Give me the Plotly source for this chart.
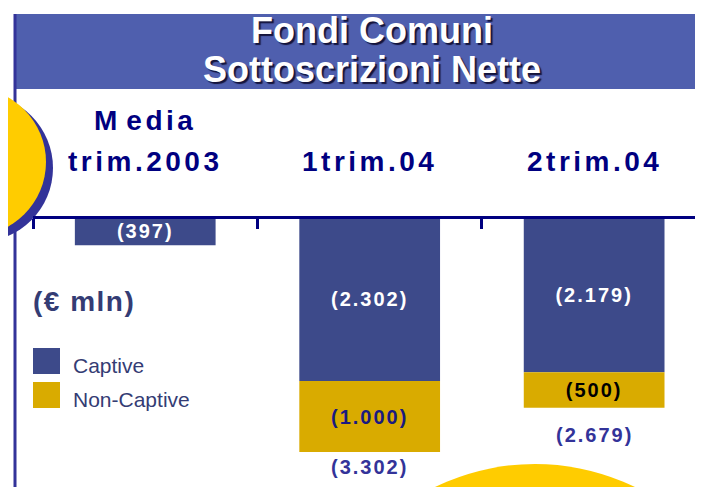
import plotly.graph_objects as go

# ---------------- data ----------------
categories = ["Media<br>trim.2003", "1trim.04", "2trim.04"]
captive = [-397, -2302, -2179]
non_captive = [None, -1000, -500]
totals = [None, -3302, -2679]
title_lines = ["Fondi Comuni", "Sottoscrizioni Nette"]
unit_label = "(€ mln)"
series_names = ["Captive", "Non-Captive"]

# ---------------- style ----------------
# the page body has an 8px default margin: lay the figure out in page pixels
OX, OY = 8, 8
W, H = 703 - OX, 487 - OY
FONT = "Liberation Sans"
NAVY = "#000080"
BAND = "#4F5FAE"
EDGE = "#333399"
YELLOW = "#FFCC00"
CAPTIVE_C = "#3D4A8A"
NONCAP_C = "#D9AB00"
LABEL_C = "#333399"
TEXT_C = "#343C74"
SCALE = 0.0712  # px per unit


def px(x):
    return (x - OX) / W


def py(y):
    return 1 - (y - OY) / H


def fmt(v):
    return "(" + f"{abs(v):,}".replace(",", ".") + ")"


def spaced(s, sp):
    return f'<span style="letter-spacing:{sp}px">{s}</span>'


def cat_line(s):
    # the first capital of "Media" is set apart in the original
    if s == "Media":
        return spaced("M", 9) + spaced("edia", 3.5)
    return spaced(s, 3.5)


fig = go.Figure()

fig.add_bar(
    x=categories, y=captive, name=series_names[0], width=0.627,
    marker=dict(color=CAPTIVE_C, line=dict(width=0)),
    text=[spaced(fmt(v), 2) for v in captive],
    textposition="inside", insidetextanchor="middle", constraintext="none",
    textfont=dict(family=FONT, size=20, color="white", weight="bold"),
    showlegend=False, hoverinfo="skip",
)
fig.add_bar(
    x=categories, y=non_captive, name=series_names[1], width=0.627,
    marker=dict(color=NONCAP_C, line=dict(width=0)),
    text=[spaced(fmt(v), 2) if v else "" for v in non_captive],
    textposition="inside", insidetextanchor="middle", constraintext="none",
    textfont=dict(family=FONT, size=20, color=["#1A1A80", "#1A1A80", "#000000"], weight="bold"),
    showlegend=False, hoverinfo="skip",
)

annotations = []
# totals under the stacks
total_shift = [0, -15, -27]
for i, t in enumerate(totals):
    if t is None:
        continue
    annotations.append(dict(
        x=categories[i], y=t, xref="x", yref="y", yanchor="middle", yshift=total_shift[i],
        text=spaced(fmt(t), 2), showarrow=False,
        font=dict(family=FONT, size=20, color=LABEL_C, weight="bold"),
    ))

# category labels above the axis
for c in categories:
    lines = c.split("<br>")[::-1]
    for k, ln in enumerate(lines):
        annotations.append(dict(
            x=c, xref="x", y=py(161 - 41 * k), yref="paper", yanchor="middle",
            text=cat_line(ln), showarrow=False,
            font=dict(family=FONT, size=28, color=NAVY, weight="bold"),
        ))

# title
for k, ln in enumerate(title_lines):
    annotations.append(dict(
        x=px(372), xref="paper", y=py(31 + 39 * k), yref="paper", yanchor="middle",
        text=ln, showarrow=False,
        font=dict(family=FONT, size=36, color="white", weight="bold",
                  shadow="2px 2px 1px #14143c"),
    ))

# unit + legend
annotations.append(dict(
    x=px(31), xref="paper", xanchor="left", y=py(301), yref="paper", yanchor="middle",
    text=spaced(unit_label, 1.5), showarrow=False,
    font=dict(family=FONT, size=28, color=TEXT_C, weight="bold"),
))
legend_rows = [(series_names[0], CAPTIVE_C, 361), (series_names[1], NONCAP_C, 395)]
shapes = [
    dict(type="rect", xref="paper", yref="paper", x0=px(15), x1=1, y0=py(89), y1=py(14),
         fillcolor=BAND, line=dict(width=0), layer="below"),
    dict(type="line", xref="paper", yref="paper", x0=px(15), x1=px(15), y0=py(14), y1=py(487),
         line=dict(color=EDGE, width=3), layer="below"),
    # decorative discs
    dict(type="circle", xref="paper", yref="paper", x0=px(-21 - 74), x1=px(-21 + 74),
         y0=py(168 + 74), y1=py(168 - 74), fillcolor=EDGE, line=dict(width=0), layer="below"),
    dict(type="circle", xref="paper", yref="paper", x0=px(-28 - 74), x1=px(-28 + 74),
         y0=py(162 + 74), y1=py(162 - 74), fillcolor=YELLOW, line=dict(width=0), layer="below"),
    dict(type="circle", xref="paper", yref="paper", x0=px(535 - 229), x1=px(535 + 229),
         y0=py(693 + 229), y1=py(693 - 229), fillcolor=YELLOW, line=dict(width=0), layer="below"),
]
for name, col, yc in legend_rows:
    shapes.append(dict(type="rect", xref="paper", yref="paper", x0=px(33), x1=px(60),
                       y0=py(yc + 13), y1=py(yc - 13), fillcolor=col, line=dict(width=0)))
    annotations.append(dict(
        x=px(71), xref="paper", xanchor="left", y=py(yc + 4), yref="paper", yanchor="middle",
        text=name, showarrow=False, font=dict(family=FONT, size=21, color=TEXT_C),
    ))

axis_y = 217 - OY  # axis line in figure pixels
fig.update_layout(
    width=W, height=H, margin=dict(l=0, r=0, t=0, b=0),
    paper_bgcolor="white", plot_bgcolor="rgba(0,0,0,0)",
    barmode="relative", showlegend=False,
    shapes=shapes, annotations=annotations,
    xaxis=dict(type="category", domain=[px(33), 1], range=[-0.5, 2.485],
               anchor="free", position=(H - axis_y) / H, side="bottom",
               showline=True, linecolor=NAVY, linewidth=3,
               ticks="outside", tickson="boundaries", ticklen=10, tickwidth=3, tickcolor=NAVY,
               showticklabels=False, showgrid=False, zeroline=False, fixedrange=True),
    yaxis=dict(range=[-(H - axis_y) / SCALE, axis_y / SCALE], visible=False, fixedrange=True),
)

fig.write_html("out.html")
